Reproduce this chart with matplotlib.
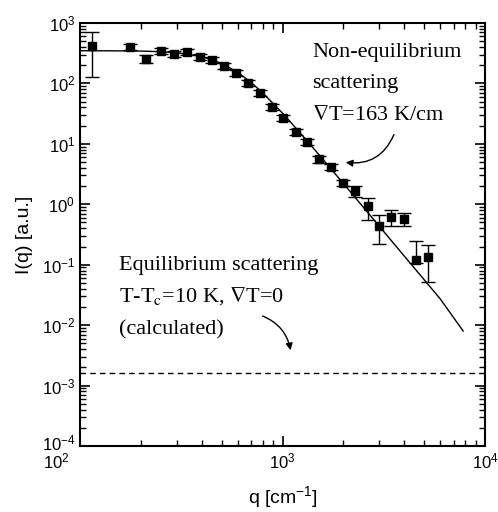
import matplotlib
matplotlib.use("Agg")
import matplotlib.pyplot as plt
import matplotlib.transforms as mtransforms
import numpy as np

plt.rcParams['font.family'] = ['Liberation Sans', 'DejaVu Sans']
plt.rcParams['mathtext.fontset'] = 'custom'
plt.rcParams['mathtext.rm'] = 'Liberation Sans'
plt.rcParams['mathtext.it'] = 'Liberation Sans:italic'

# measured data
q_data = [114, 177, 213, 250, 292, 339, 392, 450, 514, 587, 678, 774, 885, 1009,
          1162, 1325, 1513, 1736, 1996, 2290, 2638, 3000, 3436, 3980, 4545, 5212]
I_data = [421, 406, 253, 348, 307, 327, 271, 244, 192, 147, 100, 68.6, 40.7, 27.0,
          15.7, 10.7, 5.53, 4.18, 2.22, 1.65, 0.93, 0.44, 0.61, 0.57, 0.119, 0.132]
I_low = [128, 360, 215, 310, 272, 292, 242, 217, 171, 131, 89, 61, 36, 24,
         14.0, 9.5, 4.9, 3.7, 1.97, 1.30, 0.56, 0.217, 0.43, 0.435, 0.105, 0.052]
I_high = [710, 455, 290, 390, 345, 367, 303, 273, 215, 165, 112, 77, 45.5, 30.2,
          17.6, 12.0, 6.2, 4.7, 2.49, 2.02, 1.28, 0.66, 0.79, 0.72, 0.246, 0.211]

# theoretical curve (non-equilibrium)
q_fit = [100, 150, 200, 250, 300, 400, 500, 600, 700, 800, 1000, 1200, 1500,
         2000, 3000, 4000, 5000, 6000, 7800]
I_fit = [348, 346, 343, 335, 322, 278, 216, 153, 104, 69.3, 32.2, 16.3, 6.86,
         2.20, 0.437, 0.138, 0.0567, 0.0274, 0.0080]

# equilibrium (calculated) level
I_eq = 1.6e-3

W, H = 498, 512
fig = plt.figure(figsize=(W / 100, H / 100), dpi=100)
ax = fig.add_axes([80 / W, 1 - 446 / H, 405 / W, 423 / H])

ax.plot(q_fit, I_fit, color='black', lw=1.0)
ax.axhline(I_eq, color='black', lw=1.0, ls=(0, (4, 3)))

q_arr = np.array(q_data)
I_arr = np.array(I_data)
yerr = np.vstack([I_arr - np.array(I_low), np.array(I_high) - I_arr])
ax.errorbar(q_arr, I_arr, yerr=yerr, fmt='s', color='black', ms=6,
            capsize=5, elinewidth=1.0, capthick=1.0)

ax.set_xscale('log')
ax.set_yscale('log')
ax.set_xlim(100, 1e4)
ax.set_ylim(1e-4, 1e3)

ax.tick_params(which='both', direction='in', top=True, right=True, labelsize=12)
ax.tick_params(which='major', length=7, width=1.2)
ax.tick_params(which='minor', length=4, width=1.0)
ax.tick_params(axis='x', which='major', pad=4)
ax.yaxis.set_major_locator(matplotlib.ticker.LogLocator(base=10, numticks=20))
ax.yaxis.set_minor_locator(matplotlib.ticker.LogLocator(base=10, subs=np.arange(2, 10), numticks=20))
for s in ax.spines.values():
    s.set_linewidth(1.5)

ax.set_xlabel('q [cm$^{-1}$]', fontsize=14, labelpad=9)
ax.set_ylabel('I(q) [a.u.]', fontsize=14, labelpad=6)

# nudge the corner tick labels apart, as in the original figure
fig.canvas.draw()
for lbl in ax.get_xticklabels():
    if lbl.get_position()[0] == 100:
        lbl.set_transform(lbl.get_transform() +
                          mtransforms.ScaledTranslation(-24 / 100, 0, fig.dpi_scale_trans))
for lbl in ax.get_yticklabels():
    if lbl.get_position()[1] == 1e-4:
        lbl.set_transform(lbl.get_transform() +
                          mtransforms.ScaledTranslation(0, 4 / 100, fig.dpi_scale_trans))

serif = ['Liberation Serif', 'DejaVu Serif']
fs = 16
fig.text(312 / W, 1 - 57 / H, 'Non-equilibrium', family=serif, fontsize=fs, va='baseline')
fig.text(312 / W, 1 - 88 / H, 'scattering', family=serif, fontsize=fs, va='baseline')
fig.text(312 / W, 1 - 120 / H, r'$\nabla$T=163 K/cm', family=serif, fontsize=fs,
         va='baseline', math_fontfamily='stix')

fig.text(119 / W, 1 - 270 / H, 'Equilibrium scattering', family=serif, fontsize=fs, va='baseline')
fig.text(119 / W, 1 - 302 / H, r'T-T$_\mathrm{c}$=10 K, $\nabla$T=0', family=serif, fontsize=fs,
         va='baseline', math_fontfamily='stix')
fig.text(119 / W, 1 - 334 / H, '(calculated)', family=serif, fontsize=fs, va='baseline')

ax.annotate('', xy=(343, H - 162), xycoords='figure pixels',
            xytext=(395, H - 132), textcoords='figure pixels',
            arrowprops=dict(arrowstyle='-|>', color='black', lw=1.0,
                            connectionstyle='arc3,rad=-0.4', mutation_scale=10))
ax.annotate('', xy=(291, H - 353), xycoords='figure pixels',
            xytext=(260, H - 315), textcoords='figure pixels',
            arrowprops=dict(arrowstyle='-|>', color='black', lw=1.0,
                            connectionstyle='arc3,rad=-0.3', mutation_scale=10))

fig.savefig('out.png', dpi=100)
